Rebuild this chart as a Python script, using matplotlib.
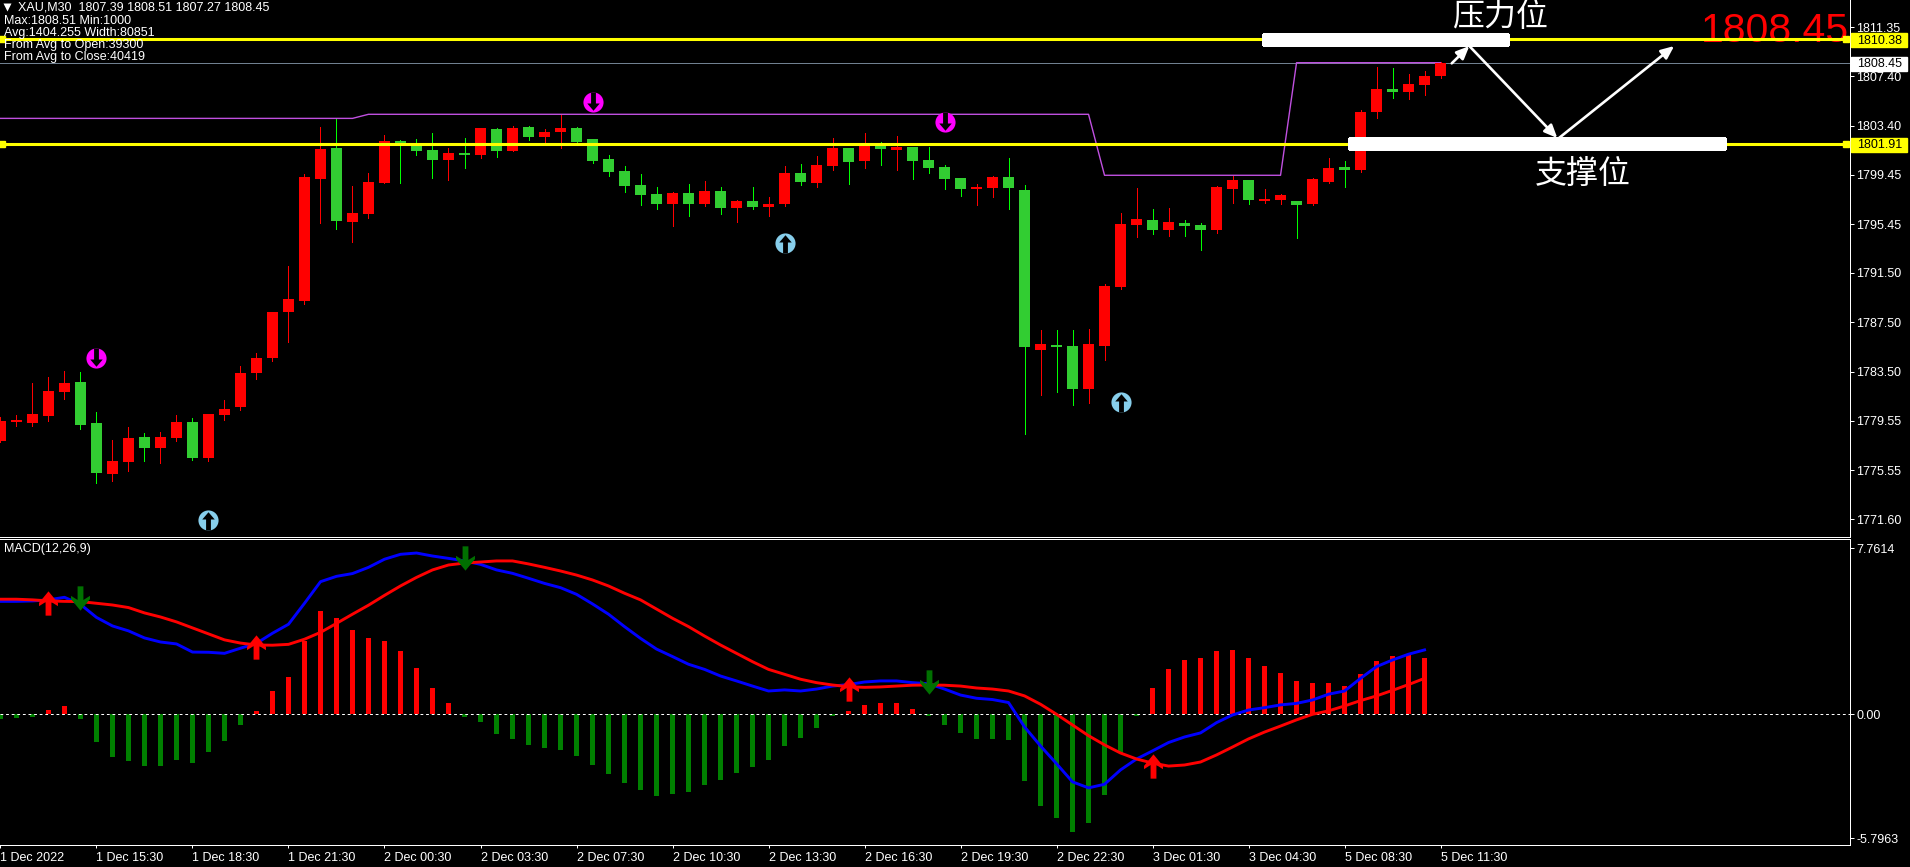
import matplotlib
matplotlib.use("Agg")
import matplotlib.pyplot as plt
from matplotlib.path import Path
from matplotlib.patches import Rectangle
from matplotlib.transforms import blended_transform_factory

plt.rcParams["font.family"] = ["Liberation Sans", "Noto Sans CJK SC", "DejaVu Sans"]

W, H = 1910, 867

# candles, one per 30 min bar
opens = [1777.91, 1779.45, 1779.36, 1779.93, 1781.87, 1782.68, 1779.36, 1775.24, 1776.21, 1778.23,
         1777.34, 1778.15, 1779.45, 1776.53, 1780.01, 1780.66, 1783.41, 1784.62, 1788.34, 1789.23,
         1799.09, 1801.60, 1795.61, 1796.26, 1798.77, 1802.16, 1801.92, 1801.43, 1800.63, 1801.19,
         1801.03, 1803.13, 1801.35, 1803.29, 1802.48, 1802.89, 1803.21, 1802.32, 1800.71, 1799.74,
         1798.60, 1797.88, 1797.07, 1797.96, 1797.07, 1798.12, 1796.75, 1797.31, 1796.83, 1797.07,
         1799.57, 1798.77, 1800.14, 1801.60, 1800.54, 1801.97, 1801.43, 1801.68, 1800.63, 1800.06,
         1799.17, 1798.28, 1798.36, 1799.25, 1798.20, 1785.27, 1785.67, 1785.59, 1782.11, 1785.59,
         1790.36, 1795.37, 1795.77, 1794.97, 1795.53, 1795.37, 1794.97, 1798.28, 1799.01, 1797.31,
         1797.39, 1797.31, 1797.07, 1798.85, 1800.06, 1799.82, 1804.51, 1806.37, 1806.12, 1806.69,
         1807.39]
highs = [1779.85, 1780.01, 1782.60, 1783.08, 1783.57, 1783.49, 1780.25, 1777.99, 1779.04, 1778.56,
         1778.64, 1780.01, 1779.77, 1780.09, 1781.22, 1783.97, 1785.02, 1788.34, 1792.06, 1799.49,
         1803.29, 1803.94, 1798.52, 1799.57, 1802.65, 1802.24, 1802.32, 1802.81, 1801.60, 1802.40,
         1803.21, 1803.21, 1803.37, 1803.37, 1803.13, 1804.26, 1803.29, 1802.32, 1801.03, 1800.14,
         1799.49, 1798.44, 1798.04, 1798.69, 1798.93, 1798.44, 1797.39, 1798.44, 1797.63, 1800.14,
         1800.30, 1800.95, 1802.40, 1801.60, 1802.81, 1802.08, 1802.57, 1801.68, 1801.68, 1800.22,
         1799.17, 1798.69, 1799.33, 1800.79, 1798.60, 1786.88, 1786.88, 1786.88, 1786.96, 1790.60,
         1796.34, 1798.36, 1796.66, 1796.75, 1795.77, 1795.53, 1798.52, 1799.33, 1799.01, 1798.28,
         1797.88, 1797.31, 1799.17, 1800.79, 1800.54, 1804.67, 1808.14, 1808.06, 1807.58, 1807.82,
         1808.51]
lows = [1777.85, 1779.12, 1779.12, 1779.53, 1781.30, 1778.88, 1774.51, 1774.68, 1775.48, 1776.29,
        1776.13, 1777.91, 1776.37, 1776.29, 1779.61, 1780.42, 1782.92, 1784.38, 1785.91, 1788.98,
        1795.53, 1795.05, 1794.00, 1795.94, 1798.77, 1798.77, 1801.03, 1799.17, 1799.01, 1799.98,
        1800.79, 1800.87, 1801.35, 1802.24, 1802.08, 1801.60, 1802.00, 1800.38, 1799.33, 1798.04,
        1796.99, 1796.66, 1795.29, 1796.10, 1796.91, 1796.26, 1795.61, 1796.66, 1796.10, 1796.91,
        1798.60, 1798.44, 1799.82, 1798.69, 1799.98, 1800.22, 1799.82, 1799.09, 1799.57, 1798.28,
        1797.72, 1796.99, 1797.63, 1796.66, 1778.48, 1781.63, 1781.87, 1780.82, 1780.98, 1784.46,
        1790.20, 1794.40, 1794.64, 1794.48, 1794.48, 1793.35, 1794.72, 1797.15, 1797.07, 1797.15,
        1797.07, 1794.32, 1796.99, 1798.77, 1798.44, 1799.66, 1804.02, 1805.64, 1805.56, 1805.88,
        1807.27]
closes = [1779.53, 1779.50, 1780.09, 1781.95, 1782.60, 1779.20, 1775.32, 1776.29, 1778.15, 1777.34,
          1778.23, 1779.45, 1776.53, 1780.09, 1780.50, 1783.41, 1784.62, 1788.34, 1789.39, 1799.25,
          1801.51, 1795.69, 1796.34, 1798.85, 1802.16, 1801.92, 1801.35, 1800.63, 1801.19, 1801.03,
          1803.21, 1801.35, 1803.21, 1802.48, 1802.89, 1803.21, 1802.08, 1800.54, 1799.66, 1798.52,
          1797.80, 1797.07, 1797.96, 1797.07, 1798.12, 1796.75, 1797.31, 1796.83, 1797.07, 1799.57,
          1798.85, 1800.22, 1801.60, 1800.46, 1801.76, 1801.51, 1801.68, 1800.54, 1799.98, 1799.09,
          1798.28, 1798.44, 1799.25, 1798.36, 1785.51, 1785.75, 1785.51, 1782.11, 1785.75, 1790.44,
          1795.45, 1795.86, 1794.97, 1795.61, 1795.29, 1794.97, 1798.44, 1799.01, 1797.39, 1797.47,
          1797.80, 1796.99, 1799.09, 1799.98, 1799.82, 1804.51, 1806.37, 1806.12, 1806.77, 1807.42,
          1808.45]

# purple channel line over the candles
channel = [1803.99] * 23 + [1804.32] * 46 + [1799.39] * 12 + [1808.49] * 10

# arrows in circles on the price panel
sell_bars = [6, 37, 59]
sell_prices = [1784.59, 1805.31, 1803.72]
buy_bars = [13, 49, 70]
buy_prices = [1771.55, 1793.94, 1781.09]

resistance = 1810.38
support = 1801.91
last_price = 1808.45

price_ticks = [1811.35, 1807.40, 1803.40, 1799.45, 1795.45, 1791.50, 1787.50, 1783.50, 1779.55, 1775.55, 1771.60]

# MACD panel
hist = [-0.22, -0.17, -0.12, 0.20, 0.39, -0.22, -1.29, -1.99, -2.18, -2.42,
        -2.42, -2.13, -2.28, -1.76, -1.25, -0.50, 0.16, 1.09, 1.75, 3.43,
        4.83, 4.50, 3.94, 3.57, 3.43, 2.96, 2.17, 1.23, 0.53, -0.11,
        -0.36, -0.92, -1.15, -1.43, -1.57, -1.67, -1.95, -2.37, -2.79, -3.21,
        -3.54, -3.82, -3.72, -3.63, -3.30, -3.07, -2.74, -2.46, -2.13, -1.48,
        -1.11, -0.64, -0.06, 0.16, 0.44, 0.53, 0.53, 0.25, -0.06, -0.50,
        -0.87, -1.15, -1.15, -1.20, -3.12, -4.29, -4.85, -5.50, -5.08, -3.77,
        -1.82, -0.08, 1.23, 2.12, 2.54, 2.63, 2.96, 3.01, 2.63, 2.26,
        1.93, 1.56, 1.46, 1.46, 1.32, 1.89, 2.49, 2.73, 2.82, 2.63]
macd_line = [5.28, 5.28, 5.30, 5.35, 5.47, 5.14, 4.53, 4.13, 3.90, 3.57,
             3.38, 3.29, 2.91, 2.90, 2.85, 3.09, 3.32, 3.79, 4.21, 5.19,
             6.20, 6.45, 6.58, 6.87, 7.25, 7.48, 7.54, 7.40, 7.29, 7.17,
             7.01, 6.75, 6.59, 6.36, 6.12, 5.92, 5.61, 5.16, 4.68, 4.10,
             3.55, 3.05, 2.70, 2.34, 2.10, 1.79, 1.56, 1.32, 1.09, 1.14,
             1.09, 1.18, 1.32, 1.39, 1.51, 1.56, 1.56, 1.48, 1.43, 1.18,
             0.90, 0.75, 0.69, 0.55, -0.59, -1.48, -2.31, -3.16, -3.44, -3.27,
             -2.60, -2.09, -1.71, -1.32, -1.06, -0.87, -0.39, -0.03, 0.20, 0.31,
             0.44, 0.51, 0.67, 0.94, 1.09, 1.68, 2.23, 2.54, 2.81, 3.01]
signal_line = [5.38, 5.38, 5.35, 5.30, 5.28, 5.27, 5.19, 5.11, 4.99, 4.74,
               4.55, 4.32, 4.04, 3.76, 3.48, 3.33, 3.24, 3.23, 3.27, 3.51,
               3.83, 4.25, 4.68, 5.10, 5.56, 6.00, 6.40, 6.75, 6.98, 7.07,
               7.12, 7.17, 7.17, 7.03, 6.87, 6.70, 6.51, 6.28, 6.00, 5.66,
               5.35, 4.92, 4.49, 4.10, 3.66, 3.24, 2.85, 2.46, 2.10, 1.87,
               1.64, 1.48, 1.37, 1.29, 1.26, 1.28, 1.32, 1.36, 1.37, 1.36,
               1.32, 1.23, 1.18, 1.09, 0.86, 0.47, 0.00, -0.50, -1.00, -1.43,
               -1.81, -2.09, -2.28, -2.42, -2.37, -2.23, -1.90, -1.53, -1.15, -0.83,
               -0.55, -0.26, 0.00, 0.16, 0.39, 0.64, 0.86, 1.12, 1.39, 1.68]

up_bars = [3, 16, 53, 72]
up_vals = [5.20, 3.16, 1.20, -2.40]
down_bars = [5, 29, 58]
down_vals = [5.46, 7.29, 1.53]

macd_ticks = [7.7614, 0.00, -5.7963]
macd_tick_labels = ["7.7614", "0.00", "-5.7963"]

time_bars = [0, 6, 12, 18, 24, 30, 36, 42, 48, 54, 60, 66, 72, 78, 84, 90]
time_labels = ["1 Dec 2022", "1 Dec 15:30", "1 Dec 18:30", "1 Dec 21:30", "2 Dec 00:30", "2 Dec 03:30",
               "2 Dec 07:30", "2 Dec 10:30", "2 Dec 13:30", "2 Dec 16:30", "2 Dec 19:30", "2 Dec 22:30",
               "3 Dec 01:30", "3 Dec 04:30", "5 Dec 08:30", "5 Dec 11:30"]

header = ["Max:1808.51 Min:1000", "Avg:1404.255 Width:80851", "From Avg to Open:39300", "From Avg to Close:40419"]

UP_COL = "#ff0000"
DOWN_BODY = "#32cd32"
DOWN_WICK = "#00ff00"
FONT_PT = 9
ONE_PX = 0.72


def pixel_axes(fig, left, top, right, bottom):
    return fig.add_axes([left / W, 1 - bottom / H, (right - left) / W, (bottom - top) / H], facecolor="black")


def arrow_marker(direction):
    # shaft and barbed head, y from tail (-1) to tip (1)
    verts = [(0, 1), (0.78, 0.05), (0.78, -0.22), (0.24, 0.12), (0.24, -1), (-0.24, -1),
             (-0.24, 0.12), (-0.78, -0.22), (-0.78, 0.05), (0, 1)]
    if direction < 0:
        verts = [(x, -y) for x, y in verts]
    return Path(verts, closed=True)


def sign_marker(direction):
    # black cut inside the coloured circle, the shaft runs out of the circle
    verts = [(0, 0.82), (0.62, 0.1), (0.24, 0.1), (0.24, -1), (-0.24, -1), (-0.24, 0.1), (-0.62, 0.1), (0, 0.82)]
    if direction < 0:
        verts = [(x, -y) for x, y in verts]
    return Path(verts, closed=True)


def style_axes(ax):
    ax.set_xlim(-0.03, 115.59)
    ax.yaxis.tick_right()
    ax.tick_params(axis="y", colors="white", length=3, width=ONE_PX, pad=1.5, labelsize=FONT_PT)
    ax.tick_params(axis="x", colors="white", length=2.5, width=ONE_PX, labelsize=FONT_PT)
    for name in ["top", "bottom", "left", "right"]:
        ax.spines[name].set_color("white")
        ax.spines[name].set_linewidth(ONE_PX)
    ax.spines["left"].set_visible(False)


fig = plt.figure(figsize=(W / 100, H / 100), dpi=100, facecolor="black")

# price panel
ax = pixel_axes(fig, 0, -2, 1850, 536.8)
style_axes(ax)
ax.set_ylim(1813.56 - 536.8 / 12.37, 1813.56 + 2 / 12.37)
ax.spines["top"].set_visible(False)
ax.set_xticks([])
ax.set_yticks(price_ticks)
ax.set_yticklabels([f"{p:.2f}" for p in price_ticks])

bars = list(range(len(closes)))
for i in bars:
    rising = closes[i] >= opens[i]
    wick = UP_COL if rising else DOWN_WICK
    body = UP_COL if rising else DOWN_BODY
    ax.vlines(i, lows[i], highs[i], color=wick, lw=ONE_PX, zorder=3, antialiased=False)
    low_edge = min(opens[i], closes[i])
    ax.bar(i, max(abs(closes[i] - opens[i]), 0.15), width=11.5 / 16, bottom=low_edge,
           color=body, zorder=4, antialiased=False)

ax.plot(bars, channel, color="#c050e0", lw=1.0, zorder=2)
ax.axhline(last_price, color="#708090", lw=ONE_PX, zorder=1)

# big price, the yellow lines run over it
ax.text(115.5, 1811.02, "1808.45", color="red", fontsize=29.5, ha="right", va="center", zorder=5)

for level in [resistance, support]:
    ax.axhline(level, color="#ffff00", lw=2.2, zorder=6)
    ax.plot([0.12, 115.35], [level, level], ls="none", marker="s", ms=5, color="#ffff00", zorder=6)

# sell / buy signs
ax.plot(sell_bars, sell_prices, ls="none", marker="o", ms=14.5, color="#ff00ff", mec="none", zorder=7)
ax.plot(sell_bars, sell_prices, ls="none", marker=sign_marker(-1), ms=14.5, color="black", mec="none", zorder=8)
ax.plot(buy_bars, buy_prices, ls="none", marker="o", ms=14.5, color="#87ceeb", mec="none", zorder=7)
ax.plot(buy_bars, buy_prices, ls="none", marker=sign_marker(1), ms=14.5, color="black", mec="none", zorder=8)

# hand drawn levels and arrows
ax.add_patch(Rectangle((78.9, 1809.92), 15.3, 0.89, color="white", zorder=9, antialiased=False))
ax.add_patch(Rectangle((84.3, 1801.51), 23.5, 0.89, color="white", zorder=9, antialiased=False))
for start, end in [((90.7, 1808.44), (91.8, 1809.84)),
                   ((91.8, 1809.84), (97.3, 1802.4)),
                   ((97.4, 1802.4), (104.6, 1809.84))]:
    ax.annotate("", xy=end, xytext=start, zorder=10,
                arrowprops=dict(arrowstyle="-|>,head_length=0.55,head_width=0.24", color="white", lw=1.9,
                                mutation_scale=14, shrinkA=0, shrinkB=0))
ax.text(93.7, 1812.1, "压力位", color="white", fontsize=23, ha="center", va="center", zorder=10)
ax.text(98.9, 1799.42, "支撑位", color="white", fontsize=23, ha="center", va="center", zorder=10)

# boxed prices on the right scale
trans = blended_transform_factory(ax.transAxes, ax.transData)
for level, box in [(resistance, "#ffff00"), (support, "#ffff00"), (last_price, "white")]:
    ax.add_patch(Rectangle((1.0003, level - 0.6), 0.0303, 1.1, transform=trans, color=box, clip_on=False, zorder=11))
    ax.text(1.0038, level - 0.1, f"{level:.2f}", transform=trans, color="black", fontsize=FONT_PT,
            va="center", ha="left", clip_on=False, zorder=12)

# header text
ax.plot([7 / 1850], [1 - 9 / 538.8], transform=ax.transAxes, marker="v", ms=6, color="white", mec="none", zorder=12)
fig.text(17.5 / W, 1 - 7.5 / H, "XAU,M30  1807.39 1808.51 1807.27 1808.45", color="white", fontsize=FONT_PT, va="center", zorder=20)
for n, line in enumerate(header):
    fig.text(4 / W, 1 - (20.7 + 12 * n) / H, line, color="white", fontsize=FONT_PT, va="center", zorder=20)

# MACD panel
mx = pixel_axes(fig, 0, 539, 1850, 845.3)
style_axes(mx)
mx.set_ylim(-131.0 / 21.39, 175.3 / 21.39)
mx_bars = list(range(len(hist)))
hist_cols = ["#ff0000" if v > 0 else "#008000" for v in hist]
mx.bar(mx_bars, hist, width=5 / 16, color=hist_cols, zorder=2, antialiased=False)
mx.axhline(0, color="white", lw=ONE_PX, ls=(0, (2.8, 2.8)), zorder=3)
mx.plot(mx_bars, macd_line, color="#0000ff", lw=2.1, zorder=4)
mx.plot(mx_bars, signal_line, color="#ff0000", lw=2.1, zorder=5)
mx.plot(up_bars, up_vals, ls="none", marker=arrow_marker(1), ms=17.5, color="#ff0000", mec="none", zorder=6)
mx.plot(down_bars, down_vals, ls="none", marker=arrow_marker(-1), ms=17.5, color="#007000", mec="none", zorder=6)
mx.text(4 / 1850, 1 - 10 / 306.3, "MACD(12,26,9)", transform=mx.transAxes, color="white", fontsize=FONT_PT, va="center")

mx.set_yticks(macd_ticks)
mx.set_yticklabels(macd_tick_labels)
mx.set_xticks(time_bars)
mx.set_xticklabels(time_labels, ha="left")
mx.tick_params(axis="x", pad=2.5)

fig.savefig("out.png", dpi=100, facecolor="black")
